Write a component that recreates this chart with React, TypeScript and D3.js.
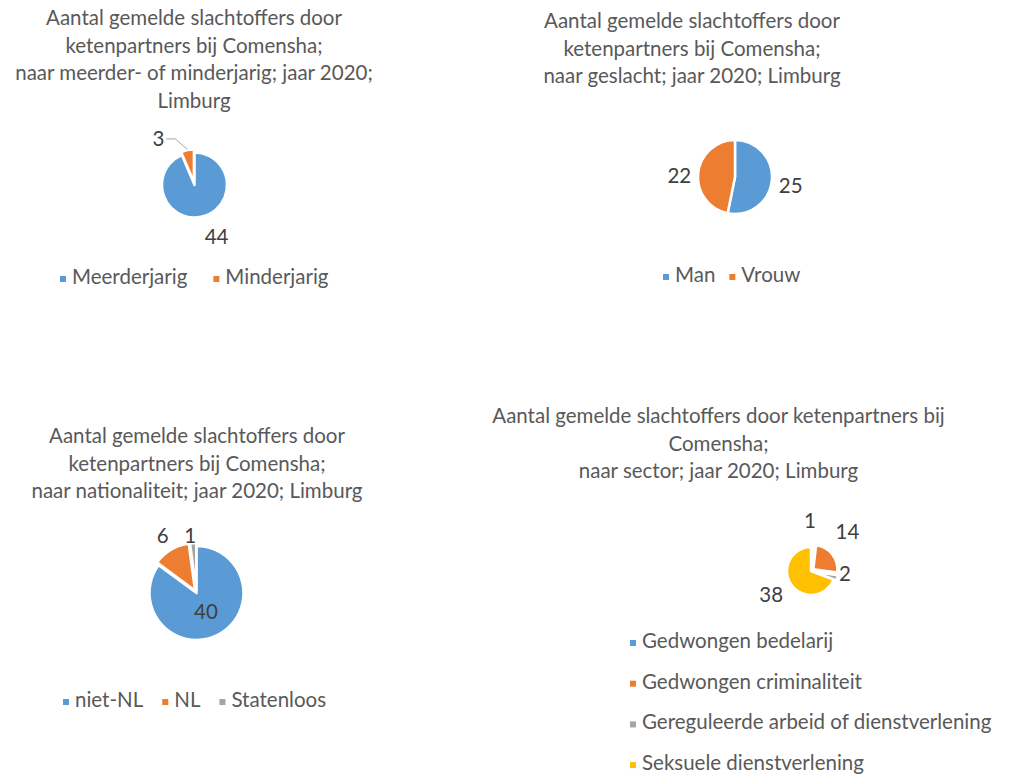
import { useRef, useEffect } from 'react';
import * as d3 from 'd3';

const palette = ['#5B9BD5', '#ED7D31', '#A5A5A5', '#FFC000'];

// Chart 1: meerder- of minderjarig
const ageTitle = ['Aantal gemelde slachtoffers door', 'ketenpartners bij Comensha;', 'naar meerder- of minderjarig; jaar 2020;', 'Limburg'];
const ageCategories = ['Meerderjarig', 'Minderjarig'];
const ageValues = [44, 3];

// Chart 2: geslacht
const genderTitle = ['Aantal gemelde slachtoffers door', 'ketenpartners bij Comensha;', 'naar geslacht; jaar 2020; Limburg'];
const genderCategories = ['Man', 'Vrouw'];
const genderValues = [25, 22];

// Chart 3: nationaliteit
const nationalityTitle = ['Aantal gemelde slachtoffers door', 'ketenpartners bij Comensha;', 'naar nationaliteit; jaar 2020; Limburg'];
const nationalityCategories = ['niet-NL', 'NL', 'Statenloos'];
const nationalityValues = [40, 6, 1];

// Chart 4: sector
const sectorTitle = ['Aantal gemelde slachtoffers door ketenpartners bij', 'Comensha;', 'naar sector; jaar 2020; Limburg'];
const sectorCategories = ['Gedwongen bedelarij', 'Gedwongen criminaliteit', 'Gereguleerde arbeid of dienstverlening', 'Seksuele dienstverlening'];
const sectorValues = [1, 14, 2, 38];

interface PieSpec {
    title: string[];
    categories: string[];
    values: number[];
    titleX: number;
    titleY: number;
    cx: number;
    cy: number;
    r: number;
    explode: number[];
    labelDist: number[];
    labelNudge: [number, number][];
    leader?: boolean[];
    legendX: number;
    legendY: number;
    legendGap: number;
    vertical?: boolean;
}

const charts: PieSpec[] = [
    {
        title: ageTitle, categories: ageCategories, values: ageValues,
        titleX: 194, titleY: 25, cx: 194.5, cy: 185, r: 32.5,
        explode: [0, 3], labelDist: [53, 46], labelNudge: [[11.5, 0], [-27, -1]], leader: [false, true],
        legendX: 60, legendY: 284, legendGap: 26,
    },
    {
        title: genderTitle, categories: genderCategories, values: genderValues,
        titleX: 692, titleY: 28, cx: 735, cy: 177, r: 37,
        explode: [0, 0], labelDist: [56, 56], labelNudge: [[0, 2.5], [0, 4.5]],
        legendX: 663, legendY: 282, legendGap: 14,
    },
    {
        title: nationalityTitle, categories: nationalityCategories, values: nationalityValues,
        titleX: 197, titleY: 443, cx: 196.5, cy: 593, r: 47,
        explode: [0, 3, 3], labelDist: [21, 66.5, 57.5], labelNudge: [[0, 0], [0, 0], [-2.5, 0]],
        legendX: 63, legendY: 707, legendGap: 19,
    },
    {
        title: sectorTitle, categories: sectorCategories, values: sectorValues,
        titleX: 718.5, titleY: 423, cx: 811, cy: 571, r: 24,
        explode: [3, 3, 3, 0], labelDist: [50, 53, 34, 47], labelNudge: [[-4, 0], [-5.5, -6.7], [1, -5.6], [-1, -2.6]],
        legendX: 630, legendY: 648, legendGap: 0, vertical: true,
    },
];

const FONT = 'Lato, "Open Sans", sans-serif';
const FONT_SIZE = '20.5px';

export default function App() {
    const svgRef = useRef<SVGSVGElement>(null);

    useEffect(() => {
        if (!svgRef.current) return;
        const root = d3.select(svgRef.current);
        root.selectAll('*').remove();

        charts.forEach(spec => {
            const g = root.append('g');

            // Title
            const title = g.append('text')
                .attr('text-anchor', 'middle')
                .attr('fill', '#595959')
                .style('font-family', FONT)
                .style('font-size', FONT_SIZE);
            spec.title.forEach((line, i) => {
                title.append('tspan')
                    .attr('x', spec.titleX)
                    .attr('y', spec.titleY + i * 27.5)
                    .text(line);
            });

            // Pie
            const pie = d3.pie<number>().value(d => d).sort(null);
            const arcs = pie(spec.values);
            const arc = d3.arc<d3.PieArcDatum<number>>().innerRadius(0).outerRadius(spec.r);
            const dir = (d: d3.PieArcDatum<number>) => {
                const a = (d.startAngle + d.endAngle) / 2;
                return [Math.sin(a), -Math.cos(a)];
            };

            const pg = g.append('g').attr('transform', `translate(${spec.cx},${spec.cy})`);
            pg.selectAll('path')
                .data(arcs)
                .enter()
                .append('path')
                .attr('d', arc)
                .attr('fill', (_, i) => palette[i])
                .attr('stroke', '#fff')
                .attr('stroke-width', 2.5)
                .attr('stroke-linejoin', 'round')
                .attr('transform', (d, i) => {
                    const [ux, uy] = dir(d);
                    return `translate(${ux * spec.explode[i]},${uy * spec.explode[i]})`;
                });

            // Data labels
            arcs.forEach((d, i) => {
                const [ux, uy] = dir(d);
                const x = ux * spec.labelDist[i] + spec.labelNudge[i][0];
                const y = uy * spec.labelDist[i] + spec.labelNudge[i][1];
                pg.append('text')
                    .attr('x', x)
                    .attr('y', y)
                    .attr('dy', '0.36em')
                    .attr('text-anchor', 'middle')
                    .attr('fill', '#404040')
                    .style('font-family', FONT)
                    .style('font-size', FONT_SIZE)
                    .text(d.data);
                if (spec.leader && spec.leader[i]) {
                    const edge = spec.r + spec.explode[i] + 1;
                    const pts: [number, number][] = [
                        [x + 8, y],
                        [x + 17, y],
                        [ux * edge, uy * edge],
                    ];
                    pg.append('path')
                        .attr('d', d3.line()(pts))
                        .attr('fill', 'none')
                        .attr('stroke', '#A6A6A6')
                        .attr('stroke-width', 1);
                }
            });

            // Legend
            const lg = g.append('g');
            let lx = spec.legendX;
            spec.categories.forEach((c, i) => {
                const ly = spec.vertical ? spec.legendY + i * 40.7 : spec.legendY;
                const x0 = spec.vertical ? spec.legendX : lx;
                lg.append('rect')
                    .attr('x', x0)
                    .attr('y', ly - 8)
                    .attr('width', 6)
                    .attr('height', 6)
                    .attr('fill', palette[i]);
                const t = lg.append('text')
                    .attr('x', x0 + 12)
                    .attr('y', ly)
                    .attr('fill', '#595959')
                    .style('font-family', FONT)
                    .style('font-size', FONT_SIZE)
                    .text(c);
                const w = (t.node() as SVGTextElement).getComputedTextLength();
                lx = x0 + 12 + w + spec.legendGap;
            });
        });
    }, []);

    return (
        <svg
            ref={svgRef}
            width={1010}
            height={782}
            style={{ position: 'absolute', left: 0, top: 0, background: '#fff' }}
        />
    );
}
